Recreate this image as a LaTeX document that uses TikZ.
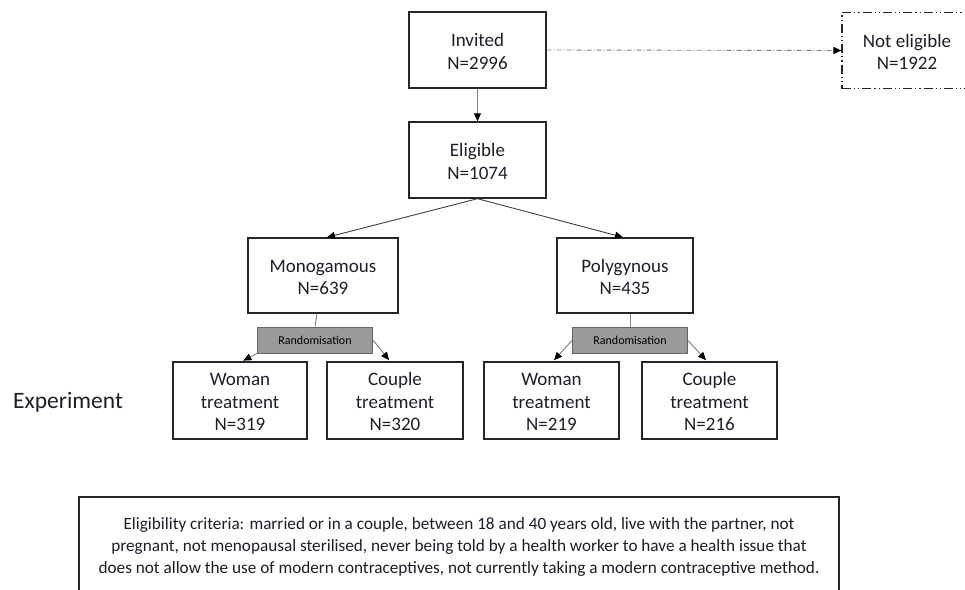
\documentclass[tikz,border=0pt]{standalone}
\usepackage{fontspec}
\setmainfont{Carlito}
\usetikzlibrary{arrows.meta}
\definecolor{lnc}{HTML}{808080}
\definecolor{txc}{HTML}{1E1E28}
\definecolor{rfill}{HTML}{9A9A9A}
\newcommand{\ls}{\vrule height 19pt depth 3.5pt width 0pt}
\tikzset{
  box/.style={draw=black!85, line width=1.4pt, rectangle, align=center, text=txc,
    font=\fontsize{19}{22.5}\selectfont, inner sep=0pt},
  rbox/.style={draw=black!60, fill=rfill, line width=1pt, rectangle, align=center, text=black,
    font=\fontsize{12}{14}\selectfont, inner sep=0pt, minimum width=115pt, minimum height=26pt},
  conn/.style={draw=lnc, line width=0.9pt, -{Triangle[length=8pt,width=7pt,color=black]}},
  plain/.style={draw=lnc, line width=0.9pt},
  ddot/.style={draw=lnc, line width=0.9pt, dash pattern=on 5pt off 2pt on 1pt off 2pt},
  ddbox/.style={box, draw=black!85, line width=1.2pt, dash pattern=on 9pt off 3pt on 1.2pt off 3pt on 1.2pt off 3pt}
}
\begin{document}
\begin{tikzpicture}[x=1pt,y=-1pt]
\useasboundingbox (0,0) rectangle (965,589);
\fill[white] (0,0) rectangle (965,589);

\node[box, minimum width=137pt, minimum height=76pt] (inv) at (477.5,50) {Invited\ls\\N=2996\ls};
\node[ddbox, minimum width=140pt, minimum height=76pt] (ne) at (912,50.5) {\hspace*{-10pt}Not eligible\ls\\\hspace*{-10pt}N=1922\ls};
\node[box, minimum width=137pt, minimum height=76pt] (eli) at (477.5,160) {Eligible\ls\\N=1074\ls};
\node[box, minimum width=150pt, minimum height=75pt] (mono) at (323,275.5) {Monogamous\ls\\N=639\ls};
\node[box, minimum width=136pt, minimum height=75pt] (poly) at (625,275.5) {Polygynous\ls\\N=435\ls};

\node[rbox] (rm) at (315,340) {Randomisation};
\node[rbox] (rp) at (630,340.5) {Randomisation};

\node[box, minimum width=134pt, minimum height=77pt] (wm) at (240,400.5) {Woman\ls\\treatment\ls\\N=319\ls};
\node[box, minimum width=136pt, minimum height=77pt] (cm) at (395,400.5) {Couple\ls\\treatment\ls\\N=320\ls};
\node[box, minimum width=135pt, minimum height=77pt] (wp) at (551.5,400.5) {Woman\ls\\treatment\ls\\N=219\ls};
\node[box, minimum width=135pt, minimum height=77pt] (cp) at (709.5,400.5) {Couple\ls\\treatment\ls\\N=216\ls};

\node[text=txc, font=\fontsize{23.5}{26}\selectfont, anchor=west, inner sep=0pt] (exp) at (13,402) {Experiment};

\node[box, line width=1.2pt, minimum width=760pt, minimum height=100pt,
  font=\fontsize{17.2}{22}\selectfont] (crit) at (459,547)
  {Eligibility criteria: married or in a couple, between 18 and 40 years old, live with the partner, not\\
   pregnant, not menopausal sterilised, never being told by a health worker to have a health issue that\\
   does not allow the use of modern contraceptives, not currently taking a modern contraceptive method.};

\draw[conn, ddot, -{Triangle[length=8pt,width=7pt,color=black]}] (inv.east) -- (ne.west);
\draw[conn] (inv.south) -- (eli.north);
\draw[conn, draw=black!75] (eli.south) -- ([xshift=4pt]mono.north);
\draw[conn, draw=black!75] (eli.south) -- ([xshift=-2pt]poly.north);
\draw[plain] ([xshift=-6pt]mono.south) -- (rm.north);
\draw[plain] ([xshift=5pt]poly.south) -- (rp.north);
\draw[conn, shorten >=1.5pt] (rm.south west) -- ([xshift=2pt]wm.north);
\draw[conn, shorten >=1.5pt] (rm.east) -- ([xshift=-5pt]cm.north);
\draw[conn, shorten >=1.5pt] (rp.west) -- ([xshift=1.5pt]wp.north);
\draw[conn, shorten >=1.5pt] (rp.east) -- ([xshift=-2.5pt]cp.north);
\end{tikzpicture}
\end{document}
